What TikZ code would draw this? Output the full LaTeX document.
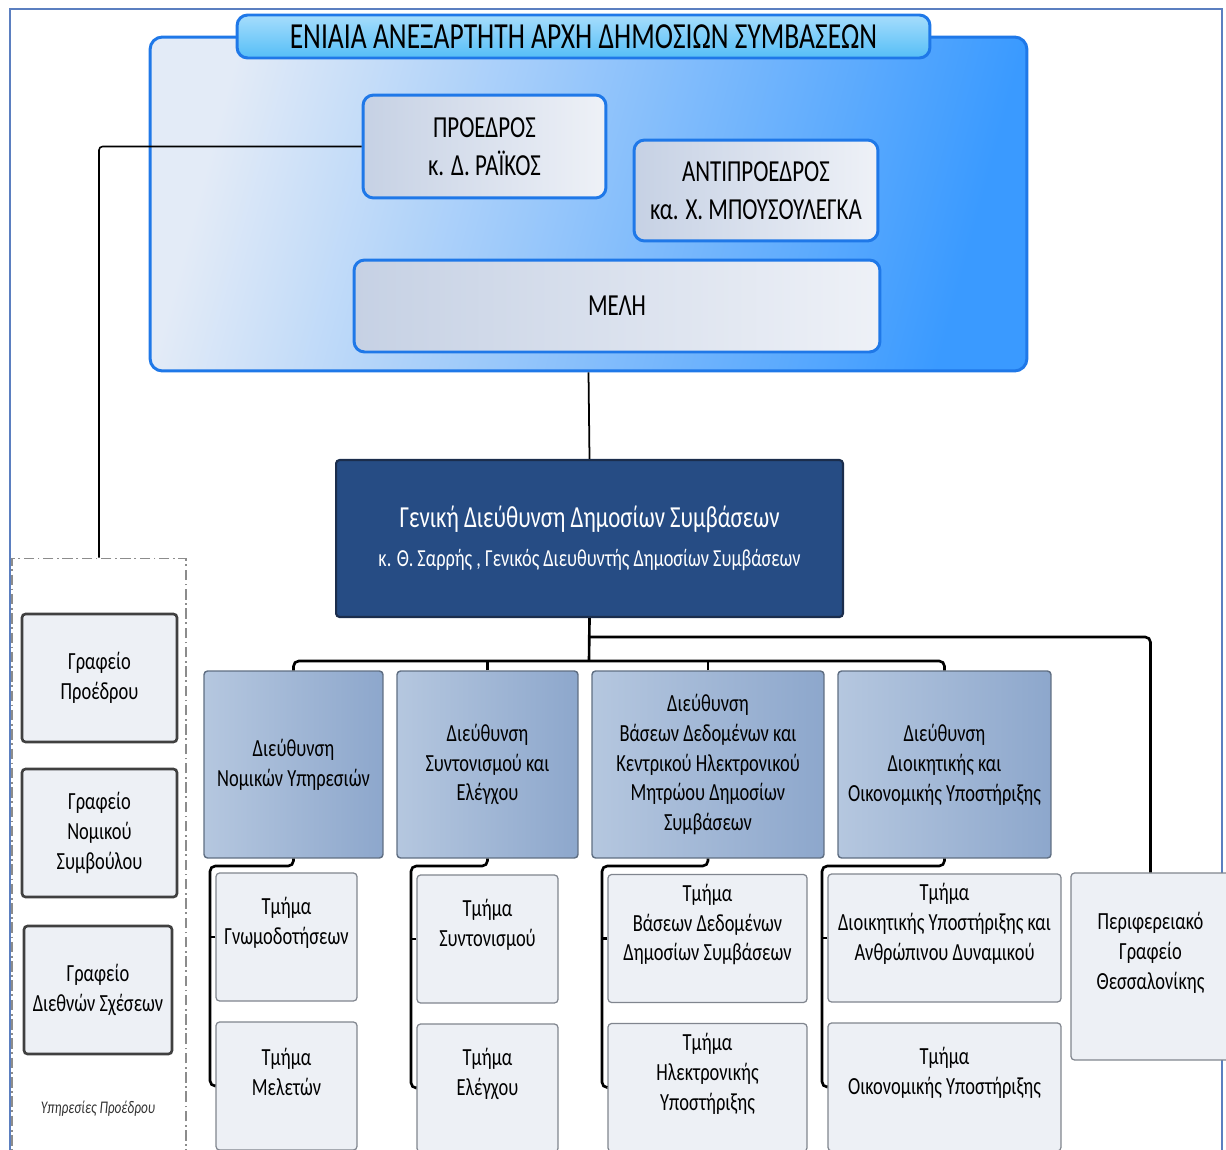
\documentclass[tikz,border=0pt]{standalone}
\usepackage{fontspec}
\setmainfont[FakeStretch=0.75]{Carlito}
\usetikzlibrary{calc}

\definecolor{frameblue}{HTML}{5B7FC0}
\definecolor{edgeblue}{HTML}{1F78E8}
\definecolor{paleblue}{HTML}{E3EBF7}
\definecolor{midblue}{HTML}{B0D4FA}
\definecolor{deepblue}{HTML}{3A9AFF}
\definecolor{tabtop}{HTML}{A6DDFC}
\definecolor{tabbot}{HTML}{55BEF7}
\definecolor{headL}{HTML}{C6D1E4}
\definecolor{headR}{HTML}{EEF1F7}
\definecolor{gdfill}{HTML}{264C84}
\definecolor{gdedge}{HTML}{1B2D4C}
\definecolor{dirL}{HTML}{B5C7DF}
\definecolor{dirR}{HTML}{8DA7CC}
\definecolor{diredge}{HTML}{5F6E82}
\definecolor{deptfill}{HTML}{EDF0F5}
\definecolor{deptedge}{HTML}{80858E}

\begin{document}
\begin{tikzpicture}[x=0.02cm, y=-0.02cm,
  frame/.style={draw=frameblue, line width=0.6pt},
  bigbox/.style={draw=edgeblue, line width=1.7pt, rounded corners=7pt, top color=paleblue, middle color=midblue, bottom color=deepblue, shading angle=75, minimum width=17.54cm, minimum height=6.68cm},
  titletab/.style={draw=edgeblue, line width=1.7pt, rounded corners=6pt, top color=tabtop, bottom color=tabbot, minimum width=13.86cm, minimum height=0.86cm, font=\fontsize{20.9}{24}\selectfont},
  headbox/.style={draw=edgeblue, line width=1.7pt, rounded corners=6pt, left color=headL, right color=headR, align=center, font=\fontsize{17.4}{21.5}\selectfont},
  gdbox/.style={draw=gdedge, line width=1.2pt, rounded corners=2pt, fill=gdfill, text=white, align=center, minimum width=10.14cm, minimum height=3.14cm, font=\fontsize{17.4}{22}\selectfont},
  dirbox/.style={draw=diredge, line width=0.8pt, rounded corners=2pt, left color=dirL, right color=dirR, align=center, minimum height=3.74cm, font=\fontsize{14}{17}\selectfont},
  deptbox/.style={draw=deptedge, line width=0.7pt, rounded corners=2pt, fill=deptfill, minimum height=2.56cm},
  depttext/.style={align=center, yshift=0.28cm, font=\fontsize{14}{17}\selectfont},
  officebox/.style={draw=black!75, line width=1.5pt, rounded corners=2pt, fill=deptfill, align=center, minimum height=2.56cm, font=\fontsize{14}{17}\selectfont},
  svcframe/.style={draw=black!45, line width=0.6pt, dash pattern=on 6pt off 2pt on 1pt off 2pt, minimum width=3.48cm, minimum height=12.04cm},
  link/.style={draw=black, line width=1.5pt, rounded corners=3pt}
]
\useasboundingbox (0,0) rectangle (1226,1149);
\clip (0,0) rectangle (1226,1149);

% outer frame
\draw[frame] (10,1160) -- (10,9) -- (1222,9) -- (1222,1160);

% authority
\node[bigbox] (big) at (588.5,204) {};
\node[titletab] (title) at (583.5,36.5) {ΕΝΙΑΙΑ ΑΝΕΞΑΡΤΗΤΗ ΑΡΧΗ ΔΗΜΟΣΙΩΝ ΣΥΜΒΑΣΕΩΝ};
\node[headbox, minimum width=4.86cm, minimum height=2.06cm] (pres) at (484.5,146.5) {ΠΡΟΕΔΡΟΣ\\κ. Δ. ΡΑΪΚΟΣ};
\node[headbox, minimum width=4.88cm, minimum height=2.02cm] (vice) at (756,190.5) {ΑΝΤΙΠΡΟΕΔΡΟΣ\\κα. Χ. ΜΠΟΥΣΟΥΛΕΓΚΑ};
\node[headbox, minimum width=10.52cm, minimum height=1.84cm] (meli) at (617,306) {ΜΕΛΗ};

% general directorate
\node[gdbox] (gd) at (589.5,538.5) {Γενική Διεύθυνση Δημοσίων Συμβάσεων\\{\fontsize{13.9}{16}\selectfont κ. Θ. Σαρρής , Γενικός Διευθυντής Δημοσίων Συμβάσεων}};

% directorates
\node[dirbox, minimum width=3.58cm] (d1) at (293.5,764.5) {Διεύθυνση\\Νομικών Υπηρεσιών};
\node[dirbox, minimum width=3.62cm] (d2) at (487.5,764.5) {Διεύθυνση\\Συντονισμού και\\Ελέγχου};
\node[dirbox, minimum width=4.64cm] (d3) at (708,764.5) {Διεύθυνση\\Βάσεων Δεδομένων και\\Κεντρικού Ηλεκτρονικού\\Μητρώου Δημοσίων\\Συμβάσεων};
\node[dirbox, minimum width=4.26cm] (d4) at (944.5,764.5) {Διεύθυνση\\Διοικητικής και\\Οικονομικής Υποστήριξης};

% departments
\node[deptbox, minimum width=2.82cm, label={[depttext]center:Τμήμα\\Γνωμοδοτήσεων}] (t1a) at (286.5,937) {};
\node[deptbox, minimum width=2.82cm, label={[depttext]center:Τμήμα\\Μελετών}] (t1b) at (286.5,1086) {};
\node[deptbox, minimum width=2.82cm, label={[depttext]center:Τμήμα\\Συντονισμού}] (t2a) at (487.5,939) {};
\node[deptbox, minimum width=2.82cm, label={[depttext]center:Τμήμα\\Ελέγχου}] (t2b) at (487.5,1088) {};
\node[deptbox, minimum width=3.98cm, label={[depttext]center:Τμήμα\\Βάσεων Δεδομένων\\Δημοσίων Συμβάσεων}] (t3a) at (707.5,938.5) {};
\node[deptbox, minimum width=3.98cm, label={[depttext]center:Τμήμα\\Ηλεκτρονικής\\Υποστήριξης}] (t3b) at (707.5,1087.5) {};
\node[deptbox, minimum width=4.66cm, label={[depttext]center:Τμήμα\\Διοικητικής Υποστήριξης και\\Ανθρώπινου Δυναμικού}] (t4a) at (944.5,938) {};
\node[deptbox, minimum width=4.66cm, label={[depttext]center:Τμήμα\\Οικονομικής Υποστήριξης}] (t4b) at (944.5,1087) {};
\node[deptbox, minimum width=3.18cm, minimum height=3.74cm, label={[depttext]center:Περιφερειακό\\Γραφείο\\Θεσσαλονίκης}] (peri) at (1150.5,966.5) {};

% president's services
\node[svcframe] (svc) at (99,859) {};
\node[officebox, minimum width=3.10cm] (g1) at (99.5,678) {Γραφείο\\Προέδρου};
\node[officebox, minimum width=3.10cm] (g2) at (99.5,833) {Γραφείο\\Νομικού\\Συμβούλου};
\node[officebox, minimum width=2.96cm] (g3) at (98,990) {Γραφείο\\Διεθνών Σχέσεων};
\node[font=\fontsize{10.1}{12}\selectfont\itshape, text=black!80] (svclabel) at (98,1109) {Υπηρεσίες Προέδρου};

% connectors
\coordinate (bus) at (589,661);
\coordinate (pbranch) at (589,637);
\draw[link, line width=0.9pt, rounded corners=2pt] (pres.west) -| (svc.north);
\draw[link, line width=1pt] (big.south) -- (gd.north);
\draw[link] (gd.south) -- (bus);
\draw[link] (pbranch) -| (peri.north);
\draw[link] (d1.north) |- (bus) -| (d4.north);
\draw[link] (d2.north) -- (d2.north |- bus);
\draw[link] (d3.north) -- (d3.north |- bus);

\coordinate (k1) at (210,866);
\coordinate (k2) at (411,866);
\coordinate (k3) at (602,866);
\coordinate (k4) at (822,866);
\draw[link] (d1.south) |- (k1) |- (t1b.west);
\draw[link] (d2.south) |- (k2) |- (t2b.west);
\draw[link] (d3.south) |- (k3) |- (t3b.west);
\draw[link] (d4.south) |- (k4) |- (t4b.west);
\draw[link] (t1a.west) -- (t1a.west -| k1);
\draw[link] (t2a.west) -- (t2a.west -| k2);
\draw[link] (t3a.west) -- (t3a.west -| k3);
\draw[link] (t4a.west) -- (t4a.west -| k4);
\end{tikzpicture}
\end{document}
